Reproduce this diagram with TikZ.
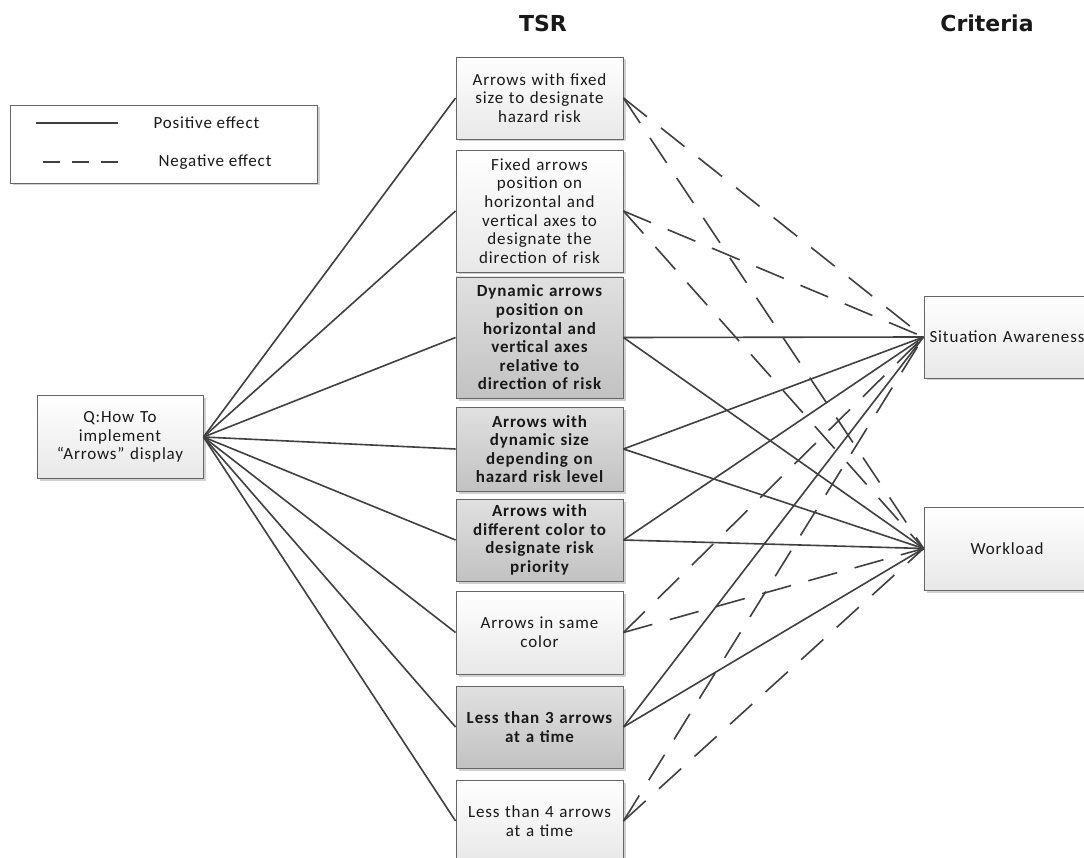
\documentclass[tikz,border=0pt]{standalone}
\usepackage{fontspec}
\setmainfont{Carlito}[LetterSpace=5]
\newfontfamily\headfont{DejaVu Sans}
\usetikzlibrary{shadows}

\begin{document}
\begin{tikzpicture}[x=1pt,y=-1pt,
  every node/.style={text=black!90},
  boxshadow/.style={drop shadow={shadow xshift=2.5pt,shadow yshift=-2.5pt,opacity=0.18,fill=black}},
  box/.style={boxshadow, draw=black!60, line width=0.9pt, top color=white, bottom color=black!9,
    minimum width=167pt, text width=164pt, align=center, inner sep=1pt,
    font=\fontsize{17}{18.6}\selectfont},
  darkbox/.style={box, top color=black!12, bottom color=black!24, font=\fontsize{17}{18.6}\selectfont\bfseries},
  head/.style={font=\headfont\bfseries\fontsize{22}{26}\selectfont},
  posline/.style={draw=black!75, line width=1.6pt},
  negline/.style={posline, dash pattern=on 30pt off 18pt},
  legtext/.style={font=\fontsize{17}{19}\selectfont, anchor=west}
]
\clip (0,0) rectangle (1084,858);
\fill[white] (0,0) rectangle (1084,858);

% column headings
\node[head] (hTSR) at (543,23) {TSR};
\node[head] (hCrit) at (987,23) {Criteria};

% legend
\node[boxshadow, draw=black!60, line width=0.9pt, fill=white, minimum width=307pt, minimum height=78pt] (legend) at (163.5,144) {};
\coordinate (ls1) at (36,123);
\coordinate (ls2) at (118,123);
\coordinate (ln1) at (43,162);
\coordinate (ln2) at (118,162);
\draw[posline] (ls1) -- (ls2);
\draw[posline, dash pattern=on 17pt off 12pt] (ln1) -- (ln2);
\node[legtext] (lpos) at (150,123) {Positive effect};
\node[legtext] (lneg) at (155,162) {Negative effect};

% question
\node[box, minimum width=166pt, minimum height=83pt] (q) at (120,437)
  {Q:How To\\implement\\“Arrows” display};

% TSR options
\node[box, minimum height=82pt] (b1) at (539.5,98)
  {Arrows with fixed\\size to designate\\hazard risk};
\node[box, minimum height=122pt] (b2) at (539.5,211)
  {Fixed arrows\\position on\\horizontal and\\vertical axes to\\designate the\\direction of risk};
\node[darkbox, minimum height=121pt] (b3) at (539.5,337.5)
  {Dynamic arrows\\position on\\horizontal and\\vertical axes\\relative to\\direction of risk};
\node[darkbox, minimum height=84pt] (b4) at (539.5,449)
  {Arrows with\\dynamic size\\depending on\\hazard risk level};
\node[darkbox, minimum height=82pt] (b5) at (539.5,540)
  {Arrows with\\different color to\\designate risk\\priority};
\node[box, minimum height=83pt] (b6) at (539.5,632.5)
  {Arrows in same\\color};
\node[darkbox, minimum height=82pt] (b7) at (539.5,727)
  {Less than 3 arrows\\at a time};
\node[box, minimum height=82pt] (b8) at (539.5,821)
  {Less than 4 arrows\\at a time};

% criteria
\node[box, minimum width=166pt, minimum height=82pt] (sa) at (1007,337)
  {Situation Awareness};
\node[box, minimum width=166pt, minimum height=83pt] (wl) at (1007,548.5)
  {Workload};

% question to options
\foreach \b in {b1,b2,b3,b4,b5,b6,b7,b8}
  \draw[posline] (q.east) -- (\b.west);

% effects on criteria
\foreach \b in {b1,b2,b6,b8} {
  \draw[negline] (\b.east) -- (sa.west);
  \draw[negline] (\b.east) -- (wl.west);
}
\foreach \b in {b3,b4,b5,b7} {
  \draw[posline] (\b.east) -- (sa.west);
  \draw[posline] (\b.east) -- (wl.west);
}
\end{tikzpicture}
\end{document}
